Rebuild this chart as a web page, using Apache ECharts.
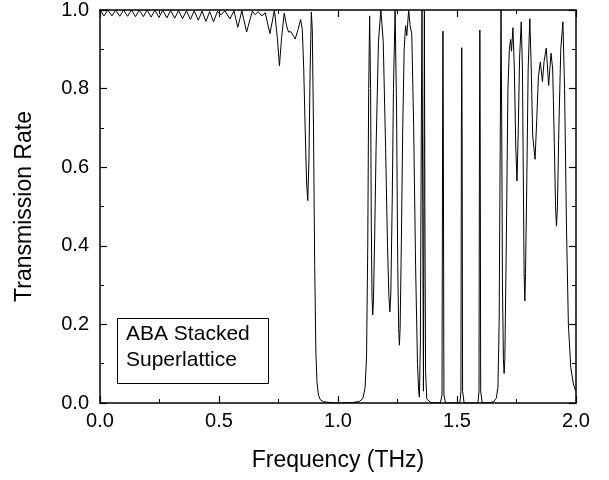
<!DOCTYPE html>
<html>
<head>
<meta charset="utf-8">
<script src="https://cdn.jsdelivr.net/npm/echarts@6/dist/echarts.min.js"></script>
<style>html,body{margin:0;padding:0;background:#fff;}#c{width:609px;height:480px;}</style>
</head>
<body>
<div id="c"></div>
<script>
const xTicks = [0.0, 0.5, 1.0, 1.5, 2.0];
const yTicks = [0.0, 0.2, 0.4, 0.6, 0.8, 1.0];
const xTitle = 'Frequency (THz)';
const yTitle = 'Transmission Rate';
const boxLines = ['ABA Stacked', 'Superlattice'];

const freq = [
0.000,0.017,0.033,0.050,0.066,0.083,0.099,0.116,0.132,0.149,0.165,0.182,0.198,0.215,0.231,0.248,0.264,0.281,0.297,0.314,
0.330,0.347,0.363,0.380,0.396,0.413,0.429,0.445,0.461,0.477,0.493,0.508,0.525,0.546,0.563,0.579,0.596,0.616,0.640,0.652,
0.664,0.680,0.694,0.714,0.733,0.745,0.754,0.763,0.774,0.784,0.792,0.802,0.812,0.820,0.832,0.843,0.850,0.856,0.862,0.868,
0.873,0.878,0.883,0.888,0.892,0.897,0.902,0.907,0.912,0.918,0.926,0.940,0.970,1.000,1.060,1.090,1.105,1.114,1.120,1.125,
1.129,1.133,1.137,1.140,1.143,1.146,1.149,1.154,1.160,1.170,1.180,1.190,1.200,1.208,1.214,1.218,1.222,1.228,1.233,1.240,
1.246,1.251,1.255,1.258,1.261,1.266,1.272,1.278,1.284,1.289,1.297,1.303,1.310,1.318,1.326,1.334,1.339,1.342,1.346,1.350,
1.353,1.356,1.359,1.361,1.363,1.365,1.368,1.373,1.390,1.430,1.437,1.4395,1.441,1.4425,1.445,1.452,1.512,1.5165,1.5185,1.520,
1.5215,1.5235,1.530,1.588,1.5925,1.5945,1.596,1.5975,1.5995,1.606,1.640,1.655,1.665,1.672,1.677,1.681,1.685,1.688,1.691,1.695,
1.698,1.701,1.708,1.714,1.720,1.725,1.729,1.735,1.741,1.747,1.752,1.757,1.763,1.770,1.775,1.779,1.782,1.785,1.788,1.793,
1.799,1.806,1.812,1.818,1.828,1.835,1.842,1.850,1.859,1.866,1.875,1.885,1.895,1.902,1.909,1.914,1.918,1.922,1.928,1.936,
1.945,1.952,1.960,1.968,1.978,1.990,2.000
];
const trans = [
1.000,0.985,1.000,0.985,1.000,0.984,1.000,0.984,1.000,0.983,1.000,0.983,1.000,0.982,1.000,0.981,1.000,0.980,0.999,0.979,
0.999,0.978,0.998,0.976,0.998,0.974,0.997,0.971,0.996,0.970,0.996,0.988,0.998,0.977,0.998,0.956,0.998,0.944,0.997,0.988,
0.996,0.985,0.993,0.940,1.000,0.930,0.858,0.930,0.992,0.960,0.944,0.945,0.935,0.926,0.950,0.976,0.950,0.850,0.700,0.560,
0.515,0.620,0.850,0.995,0.950,0.700,0.350,0.130,0.050,0.020,0.008,0.003,0.001,0.000,0.001,0.004,0.012,0.040,0.120,0.400,
0.800,0.985,0.800,0.450,0.270,0.224,0.260,0.420,0.650,0.920,1.000,0.920,0.650,0.400,0.270,0.232,0.280,0.520,0.800,1.000,
0.750,0.350,0.190,0.147,0.190,0.400,0.700,0.900,0.960,0.935,1.000,0.960,0.940,0.700,0.350,0.100,0.030,0.015,0.150,0.700,
1.000,0.500,0.030,0.500,1.000,0.500,0.080,0.010,0.001,0.000,0.020,0.700,0.946,0.700,0.020,0.000,0.000,0.030,0.700,0.904,
0.700,0.030,0.000,0.000,0.030,0.700,0.949,0.700,0.030,0.000,0.001,0.004,0.012,0.040,0.200,0.600,1.000,0.700,0.300,0.110,
0.075,0.110,0.450,0.800,0.900,0.925,0.895,0.955,0.850,0.650,0.565,0.680,0.880,0.970,0.850,0.550,0.330,0.260,0.330,0.550,
0.850,0.978,0.850,0.680,0.620,0.720,0.830,0.868,0.818,0.870,0.903,0.808,0.890,0.850,0.660,0.500,0.450,0.500,0.700,0.900,
0.970,0.800,0.450,0.200,0.090,0.045,0.030
];

const points = freq.map((f, i) => [f, trans[i]]);
const FONT = '"Liberation Sans", Arial, sans-serif';

const chart = echarts.init(document.getElementById('c'), null, {renderer: 'canvas'});
const axisCommon = {
  type: 'value',
  splitLine: {show: false},
  axisLine: {show: true, onZero: false, lineStyle: {color: '#000', width: 1.5}},
  axisTick: {show: true, inside: true, length: 7, lineStyle: {color: '#000', width: 1.2}},
  minorTick: {show: true, splitNumber: 2, length: 4, lineStyle: {color: '#000', width: 1}},
  minorSplitLine: {show: false}
};
chart.setOption({
  animation: false,
  backgroundColor: '#fff',
  grid: {left: 100, right: 33, top: 10, bottom: 77, containLabel: false},
  xAxis: [
    Object.assign({}, axisCommon, {
      position: 'bottom', min: xTicks[0], max: xTicks[xTicks.length - 1], interval: 0.5,
      name: xTitle, nameLocation: 'middle', nameGap: 46,
      nameTextStyle: {fontFamily: FONT, fontSize: 23, color: '#000'},
      axisLabel: {fontFamily: FONT, fontSize: 20, color: '#000', margin: 8,
        formatter: v => v.toFixed(1)}
    }),
    Object.assign({}, axisCommon, {
      position: 'top', min: xTicks[0], max: xTicks[xTicks.length - 1], interval: 0.5,
      axisLabel: {show: false}
    })
  ],
  yAxis: [
    Object.assign({}, axisCommon, {
      position: 'left', min: yTicks[0], max: yTicks[yTicks.length - 1], interval: 0.2,
      name: yTitle, nameLocation: 'middle', nameGap: 64, nameRotate: 90,
      nameTextStyle: {fontFamily: FONT, fontSize: 23, color: '#000'},
      axisLabel: {fontFamily: FONT, fontSize: 20, color: '#000', margin: 11,
        formatter: v => v.toFixed(1)}
    }),
    Object.assign({}, axisCommon, {
      position: 'right', min: yTicks[0], max: yTicks[yTicks.length - 1], interval: 0.2,
      axisLabel: {show: false}
    })
  ],
  series: [{
    type: 'line',
    xAxisIndex: 0, yAxisIndex: 0,
    data: points,
    showSymbol: false,
    symbol: 'none',
    lineStyle: {color: '#000', width: 1},
    clip: true
  }],
  graphic: [
    {type: 'rect', left: 117, top: 318, shape: {width: 151, height: 65},
     style: {fill: '#fff', stroke: '#000', lineWidth: 1}, z: 100},
    {type: 'text', left: 126, top: 324, z: 101,
     style: {text: boxLines[0], font: '21px ' + FONT, fill: '#000'}},
    {type: 'text', left: 126, top: 350, z: 101,
     style: {text: boxLines[1], font: '21px ' + FONT, fill: '#000'}}
  ]
});
</script>
</body>
</html>
